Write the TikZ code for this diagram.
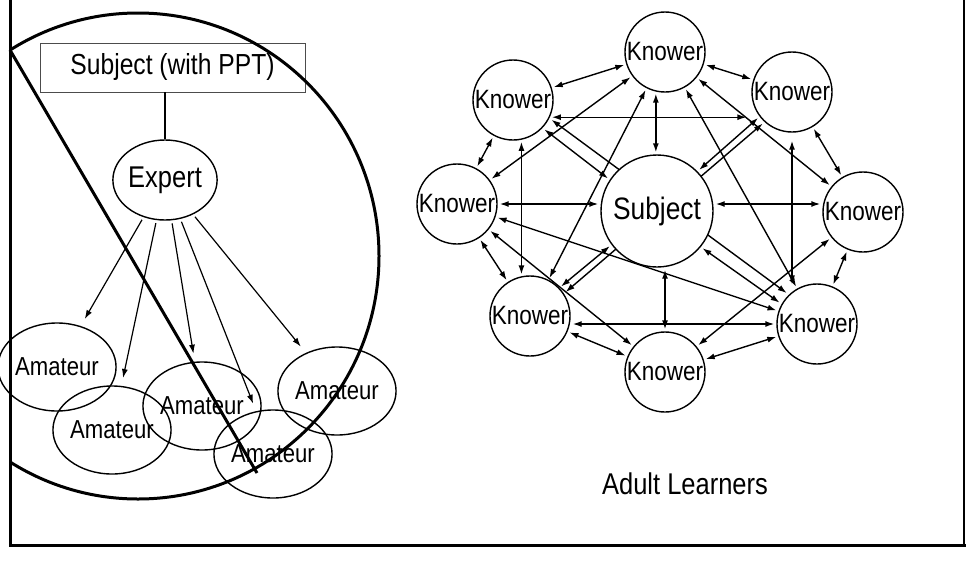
\documentclass[tikz,border=0pt]{standalone}
\usepackage{fontspec}
\setmainfont[FakeStretch=0.85]{Liberation Sans}
\usetikzlibrary{arrows.meta,shapes.geometric,calc}
\begin{document}
\begin{tikzpicture}[x=1pt,y=-1pt,
  know/.style={circle,draw,line width=1.4pt,minimum size=80pt,inner sep=0pt,font=\fontsize{26.5}{28}\selectfont},
  amat/.style={ellipse,draw,line width=1.4pt,minimum width=97pt,minimum height=88pt,inner sep=0pt,font=\fontsize{26}{28}\selectfont},
  link/.style={line width=1.4pt,{Latex[length=9pt,width=6pt]}-{Latex[length=9pt,width=6pt]},shorten <=2pt,shorten >=2pt},
  oneway/.style={line width=1.2pt,-{Latex[length=9pt,width=6pt]},shorten <=3pt,shorten >=8pt},
  heavy/.style={line width=3pt}]
\useasboundingbox (0,0) rectangle (966,562);
% frame
\draw[heavy] (10,0) -- (10,545) -- (966,545);
\draw[line width=2pt] (964,0) -- (964,545);
% ---------- left part ----------
\node[draw=black!70,line width=0.8pt,minimum width=265pt,minimum height=49pt,inner sep=0pt,font=\fontsize{29}{32}\selectfont] (subj1) at (172.5,67.5) {Subject (with PPT)};
\node[ellipse,draw,line width=1.4pt,minimum width=90pt,minimum height=80pt,inner sep=0pt,font=\fontsize{30}{32}\selectfont] (expert) at (165,180) {Expert};
\draw[line width=1.4pt] (expert.north |- subj1.south) -- (expert.north);
\node[amat] (A1) at (57,367) {Amateur};
\node[amat] (A2) at (112,430) {Amateur};
\node[amat] (A3) at (202,406) {Amateur};
\node[amat] (A4) at (273,454) {Amateur};
\node[amat] (A5) at (337,391) {Amateur};
\foreach \a in {A1,A2,A3,A4,A5} \draw[oneway] (expert) -- (\a);
\begin{scope}
\clip (10,0) rectangle (966,562);
\draw[heavy] (138,256) ellipse [x radius=241pt, y radius=243pt];
\end{scope}
\coordinate (dA) at (10,50);
\coordinate (dB) at (257,473);
\draw[heavy] (dA) -- (dB);
% ---------- right part ----------
\node[know] (T) at (665,52) {Knower};
\node[know] (UL) at (513,100) {Knower};
\node[know] (UR) at (792,92) {Knower};
\node[know] (L) at (457,204) {Knower};
\node[know] (R) at (863,212) {Knower};
\node[know] (LL) at (530,316) {Knower};
\node[know] (B) at (665,372) {Knower};
\node[know] (LR) at (817,324) {Knower};
% ring
\draw[link] (UL) -- (T);
\draw[link] (T) -- (UR);
\draw[link] (UR) -- (R);
\draw[link] (R) -- (LR);
\draw[link] (LR) -- (B);
\draw[link] (B) -- (LL);
\draw[link] (LL) -- (L);
\draw[link] (L) -- (UL);
% chords
\draw[link] (T) -- (R);
\draw[link] (T) -- (L);
\draw[link] (T) -- (LL);
\draw[link] (T) -- (LR);
\draw[link] (L) -- (B);
\draw[link] (R) -- (B);
\draw[link,shorten >=14pt] (UL.-25) -- (UL.-25 -| UR.219);
\draw[link] (UL.-78) -- (UL.-78 |- LL.103);
\draw[link,shorten <=8pt,shorten >=8pt] (UR.south) -- (UR.south |- LR.129);
\draw[link] (LL.east |- LR.west) -- (LR.west);
\draw[link] (L) -- (LR);
% long diagonals behind the subject
\draw[link,transform canvas={shift={(4.1pt,5.6pt)}}] (UL) -- (LR);
\draw[link,transform canvas={shift={(3.2pt,-3.8pt)}}] (UR) -- (LL);
% subject
\node[circle,draw,fill=white,line width=1.4pt,minimum size=112pt,inner sep=0pt,font=\fontsize{31}{33}\selectfont] (S) at (657,211) {Subject};
\draw[link] (T.-103) -- (T.-103 |- S.north);
\draw[link] (B.north |- S.south) -- (B.north);
\draw[link] (L.east) -- (L.east -| S.west);
\draw[link] (S.east |- L.east) -- (R.west |- L.east);
\draw[link,transform canvas={shift={(-2.5pt,-3.3pt)}}] (UL) -- (S);
\draw[link,transform canvas={shift={(-2.5pt,-3.3pt)}}] (S) -- (LR);
\draw[link,transform canvas={shift={(-1.9pt,2.3pt)}}] (UR) -- (S);
\draw[link,transform canvas={shift={(-1.9pt,2.3pt)}}] (S) -- (LL);
\node[font=\fontsize{30}{32}\selectfont] (adult) at (685,484) {Adult Learners};
\end{tikzpicture}
\end{document}
